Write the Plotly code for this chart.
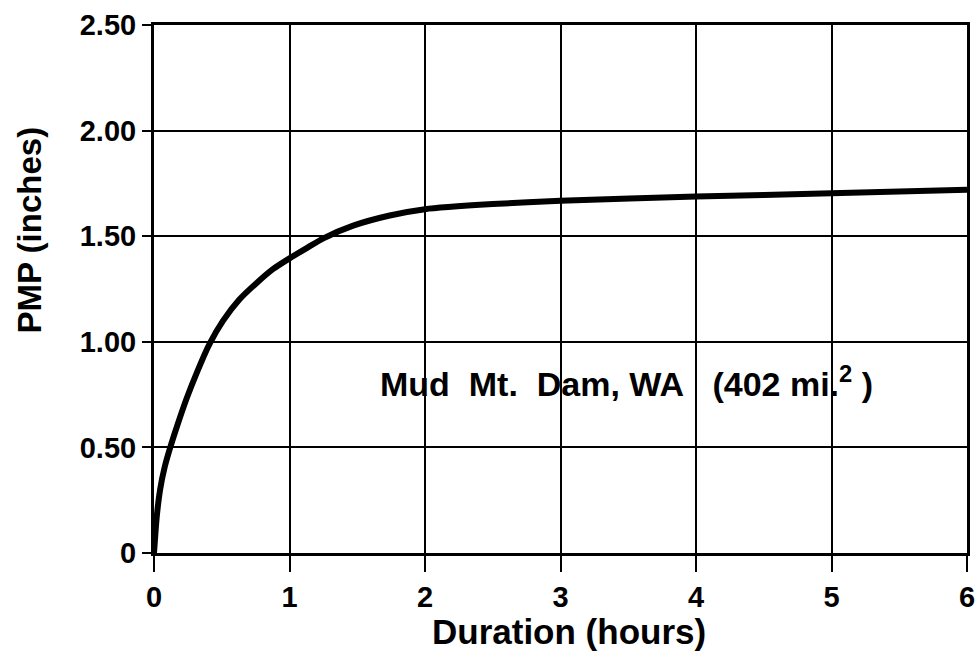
import plotly.graph_objects as go

# PMP depth-duration curve, Mud Mt. Dam, WA
duration_hr = [0, 0.02, 0.045, 0.08, 0.12, 0.17, 0.24, 0.32, 0.41, 0.51, 0.63, 0.76, 0.88,
               1.0, 1.13, 1.25, 1.47, 1.74, 2.0, 2.5, 3.0, 4.0, 5.0, 6.0]
pmp_in = [0, 0.17, 0.30, 0.41, 0.50, 0.60, 0.73, 0.86, 0.99, 1.10, 1.20, 1.28, 1.345,
          1.395, 1.445, 1.49, 1.55, 1.598, 1.628, 1.652, 1.668, 1.688, 1.703, 1.72]

x_ticks = [0, 1, 2, 3, 4, 5, 6]
y_ticks = [0, 0.5, 1.0, 1.5, 2.0, 2.5]
y_tick_text = ["0", "0.50", "1.00", "1.50", "2.00", "2.50"]

FONT = "Liberation Sans, Arial, sans-serif"

fig = go.Figure()
fig.add_trace(go.Scatter(
    x=duration_hr, y=pmp_in, mode="lines",
    line=dict(color="black", width=6, shape="spline", smoothing=0.6),
    showlegend=False, hoverinfo="skip",
))

# Basin label inside the plot
fig.add_annotation(
    x=3.49, y=0.81, xref="x", yref="y", showarrow=False,
    text="<b>Mud\u00a0\u00a0Mt.\u00a0\u00a0Dam,\u00a0WA\u00a0\u00a0\u00a0(402\u00a0mi.<sup>2</sup>\u00a0)</b>",
    font=dict(family=FONT, size=34, color="black"),
)

# Axis titles
fig.add_annotation(
    x=0.51, y=-0.148, xref="paper", yref="paper", showarrow=False,
    xanchor="center", yanchor="middle",
    text="<b>Duration (hours)</b>",
    font=dict(family=FONT, size=35, color="black"),
)
fig.add_annotation(
    x=-0.153, y=0.612, xref="paper", yref="paper", showarrow=False,
    xanchor="center", yanchor="middle", textangle=-90,
    text="<b>PMP (inches)</b>",
    font=dict(family=FONT, size=33, color="black"),
)

axis_common = dict(
    showgrid=True, gridcolor="black", gridwidth=2,
    showline=True, linecolor="black", linewidth=3, mirror=True,
    ticks="outside", tickwidth=2, tickcolor="black",
    zeroline=False, automargin=False, ticklabeloverflow="allow",
    tickfont=dict(family=FONT, size=29, color="black"),
)

fig.update_xaxes(
    range=[0, 6], tickvals=x_ticks, ticktext=[f"<b>{v}</b>" for v in x_ticks],
    ticklen=16, **axis_common,
)
fig.update_yaxes(
    range=[0, 2.5], tickvals=y_ticks, ticktext=[f"<b>{t}</b>" for t in y_tick_text],
    ticklen=9, **axis_common,
)

fig.update_layout(
    width=975, height=664,
    margin=dict(l=154, r=8, t=25, b=111),
    paper_bgcolor="white", plot_bgcolor="white",
)

fig.write_html("out.html")
